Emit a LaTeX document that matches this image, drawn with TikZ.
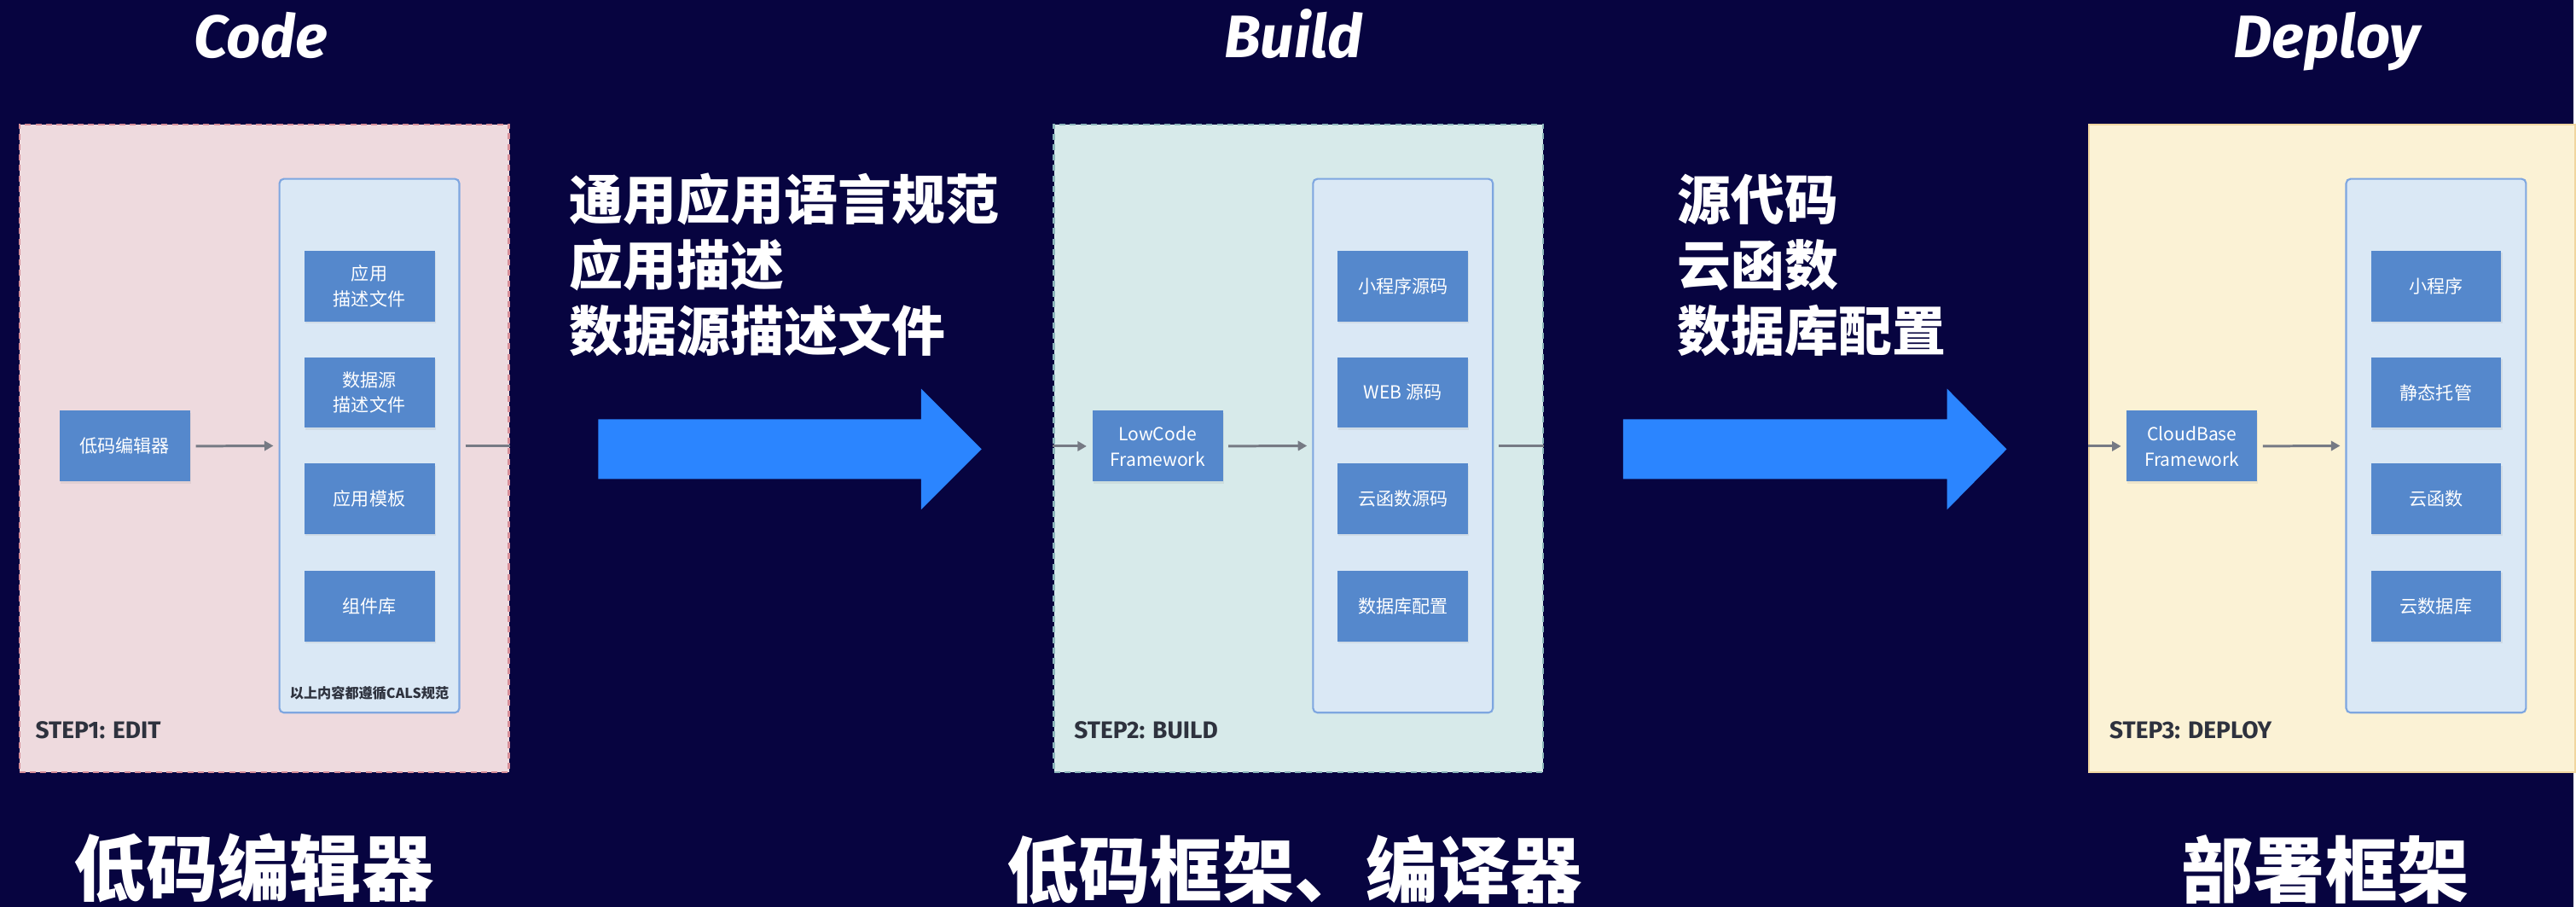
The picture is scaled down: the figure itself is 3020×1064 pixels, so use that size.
\documentclass[tikz,border=0pt]{standalone}
\usepackage{fontspec}
\setmainfont{Noto Sans CJK SC}
\newfontfamily\titlefont{Fira Sans}
\usetikzlibrary{arrows.meta,shadows}

\definecolor{navy}{RGB}{7,4,64}
\definecolor{editpink}{RGB}{238,218,222}
\definecolor{editline}{RGB}{214,142,152}
\definecolor{buildteal}{RGB}{215,234,234}
\definecolor{buildline}{RGB}{140,182,186}
\definecolor{deployyellow}{RGB}{251,242,213}
\definecolor{deployline}{RGB}{240,214,160}
\definecolor{holderfill}{RGB}{218,232,245}
\definecolor{holderline}{RGB}{126,166,224}
\definecolor{itemblue}{RGB}{85,136,204}
\definecolor{flowgray}{RGB}{118,122,132}
\definecolor{bigblue}{RGB}{43,133,255}
\definecolor{stepgray}{RGB}{46,50,62}

\tikzset{
	title/.style={anchor=base, text=white, inner sep=0, font=\titlefont\bfseries\itshape\fontsize{20pt}{24pt}\selectfont},
	stage/.style={rectangle, inner sep=0, minimum width=5.74cm, minimum height=7.6cm, line width=0.6pt, dash pattern=on 2pt off 1.5pt},
	holder/.style={rectangle, rounded corners=1.5pt, fill=holderfill, draw=holderline, line width=0.6pt, minimum width=2.11cm, minimum height=6.26cm},
	item/.style={rectangle, fill=itemblue, text=white, minimum width=1.53cm, minimum height=0.83cm, inner sep=0, align=center,
		font=\fontsize{6pt}{8.5pt}\selectfont, drop shadow={opacity=0.12, shadow xshift=0.3pt, shadow yshift=-0.6pt}},
	steplabel/.style={anchor=west, inner sep=0, text=stepgray, font=\titlefont\bfseries\fontsize{8pt}{10pt}\selectfont},
	flow/.style={draw=flowgray, line width=0.85pt, -{Triangle[length=3pt,width=3.2pt]}},
	flowtext/.style={anchor=west, align=left, inner sep=0, text=white, font=\bfseries\fontsize{17.9pt}{21.9pt}\selectfont},
	bottomtext/.style={inner sep=0, text=white, font=\bfseries\fontsize{24pt}{28pt}\selectfont}
}

\begin{document}
\begin{tikzpicture}[x=0.01cm,y=-0.01cm]
	%%%%% START %%%%%
	
	\fill[navy] (0,0) rectangle (3020,1064);
	
	\node[title] (codetitle) at (306,68) {Code};
	\node[title] (buildtitle) at (1518,68) {Build};
	\node[title] (deploytitle) at (2731,68) {Deploy};
	
	%%%%% STEP 1 %%%%%
	\node[stage, fill=editpink, draw=editline] (editstage) at (310,526) {};
	\node[holder] (codeholder) at (433.5,523) {};
	\node[item] (appdesc) at (433.5,335.5) {应用\\描述文件};
	\node[item] (datadesc) at (433.5,460.5) {数据源\\描述文件};
	\node[item] (apptpl) at (433.5,585.5) {应用模板};
	\node[item] (complib) at (433.5,711) {组件库};
	\node[inner sep=0, text=stepgray, font=\bfseries\fontsize{4.6pt}{5.5pt}\selectfont] (calsnote) at (433.5,813) {以上内容都遵循CALS规范};
	\node[item] (editor) at (146.5,523.5) {低码编辑器};
	\node[steplabel] (step1) at (41,857) {STEP1: EDIT};
	
	\draw[flow, shorten <=0.06cm, shorten >=0.06cm] (editor.east) -- (codeholder.west);
	\draw[flow, -] (codeholder.east) ++(0.06cm,0) -- (codeholder.east -| editstage.east);
	
	%%%%% STEP 2 %%%%%
	\node[stage, fill=buildteal, draw=buildline] (buildstage) at (1524,526) {};
	\node[holder] (buildholder) at (1646.5,523) {};
	\node[item] (mpsrc) at (1646.5,335.5) {小程序源码};
	\node[item] (websrc) at (1646.5,460.5) {WEB 源码};
	\node[item] (fnsrc) at (1646.5,585.5) {云函数源码};
	\node[item] (dbconf) at (1646.5,711) {数据库配置};
	\node[item] (lowcode) at (1358.5,523.5) {LowCode\\Framework};
	\node[steplabel] (step2) at (1260,857) {STEP2: BUILD};
	
	\draw[flow, shorten >=0.06cm] (buildstage.west |- lowcode.west) -- (lowcode.west);
	\draw[flow, shorten <=0.06cm, shorten >=0.06cm] (lowcode.east) -- (buildholder.west);
	\draw[flow, -] (buildholder.east) ++(0.06cm,0) -- (buildholder.east -| buildstage.east);
	
	%%%%% STEP 3 %%%%%
	\node[stage, fill=deployyellow, draw=deployline, solid, minimum width=5.7cm] (deploystage) at (2737,526) {};
	\node[holder] (deployholder) at (2859,523) {};
	\node[item] (miniapp) at (2859,335.5) {小程序};
	\node[item] (hosting) at (2859,460.5) {静态托管};
	\node[item] (cloudfn) at (2859,585.5) {云函数};
	\node[item] (clouddb) at (2859,711) {云数据库};
	\node[item] (cloudbase) at (2572.5,523.5) {CloudBase\\Framework};
	\node[steplabel] (step3) at (2475,857) {STEP3: DEPLOY};
	
	\draw[flow, shorten >=0.06cm] (deploystage.west |- cloudbase.west) -- (cloudbase.west);
	\draw[flow, shorten <=0.06cm, shorten >=0.06cm] (cloudbase.east) -- (deployholder.west);
	
	%%%%% BIG ARROWS %%%%%
	\fill[bigblue] (702,492) -- (1081,492) -- (1081,456) -- (1152,527) -- (1081,598) -- (1081,562) -- (702,562) -- cycle;
	\fill[bigblue] (1905,492) -- (2285,492) -- (2285,456) -- (2355,527) -- (2285,598) -- (2285,562) -- (1905,562) -- cycle;
	
	\node[flowtext] (spectext) at (668,311) {通用应用语言规范\\应用描述\\数据源描述文件};
	\node[flowtext] (outtext) at (1968,311) {源代码\\云函数\\数据库配置};
	
	\node[bottomtext] (editname) at (298,1018) {低码编辑器};
	\node[bottomtext] (buildname) at (1519,1020) {低码框架、编译器};
	\node[bottomtext] (deployname) at (2729,1020) {部署框架};
	
	%%%%% END %%%%%
\end{tikzpicture}
\end{document}
